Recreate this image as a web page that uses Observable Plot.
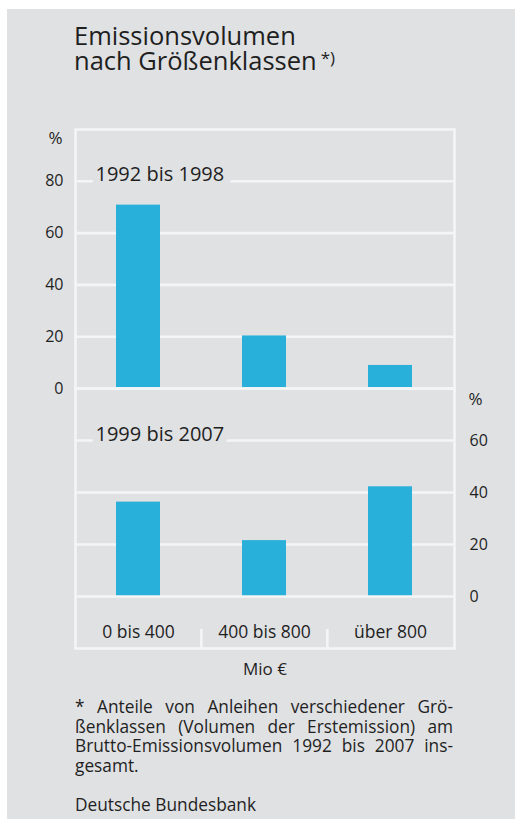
<!DOCTYPE html>
<html>
<head>
<meta charset="utf-8">
<script src="https://cdn.jsdelivr.net/npm/d3@7"></script>
<script src="https://cdn.jsdelivr.net/npm/@observablehq/plot@0.6"></script>
<style>
  body { margin: 0; width: 515px; height: 819px; position: relative; overflow: hidden; background: #fff;
         font-family: "Open Sans", sans-serif; color: #1f1f1f; }
  #sheet { position: absolute; left: 7px; top: 9px; right: 0; bottom: 0; background: #e0e1e3; }
  .title { position: absolute; left: 74px; top: 23px; font-size: 25.5px; white-space: nowrap; }
  .title div { height: 25px; line-height: 25px; }
  .title sup { font-size: 17px; position: relative; top: 1px; vertical-align: top; margin-left: 4px; line-height: 17px; }
  .chart { position: absolute; left: 0; }
  .note { position: absolute; left: 75px; top: 697px; width: 378px; font-size: 17.3px; }
  .note div { height: 19.6px; line-height: 19.6px; }
  .note .j { text-align: justify; text-align-last: justify; }
  .source { position: absolute; left: 75px; top: 795px; font-size: 17.3px; line-height: 20px; }
</style>
</head>
<body>
<div id="sheet"></div>
<div class="title">
  <div>Emissionsvolumen</div>
  <div>nach Größenklassen<sup>*)</sup></div>
</div>
<div id="upper" class="chart" style="top:120px"></div>
<div id="lower" class="chart" style="top:380px"></div>
<div class="note">
  <div class="j">* Anteile von Anleihen verschiedener Grö-</div>
  <div class="j">ßenklassen (Volumen der Erstemission) am</div>
  <div class="j">Brutto-Emissionsvolumen 1992 bis 2007 ins-</div>
  <div>gesamt.</div>
</div>
<div class="source">Deutsche Bundesbank</div>
<script>
// Issue-size classes (million euro) and their share of gross issuance, in %
const categories = ["0 bis 400", "400 bis 800", "über 800"];
const share1992to1998 = [70.8, 20.3, 8.9];
const share1999to2007 = [36.3, 21.5, 42.2];
const periodLabels = ["1992 bis 1998", "1999 bis 2007"];
const leftTicks = [0, 20, 40, 60, 80];
const rightTicks = [0, 20, 40, 60];
const unitLabel = "%";
const xLabel = "Mio €";

const bg = "#e0e1e3";
const lineColor = "#f4f5f5";
const barColor = "#29b0da";
const ink = "#1f1f1f";
const lineWidth = 2.6;
const tickFont = 16;

const rows = values => categories.map((cls, i) => ({cls, share: values[i]}));

const W = 515, mL = 75, mR = 61;
const step = (W - mL - mR) / categories.length;

const xScale = {type: "band", domain: categories, paddingInner: 0.65, paddingOuter: 0.325, axis: null};
const style = {background: "transparent", fontFamily: "Open Sans, sans-serif", fontSize: "16px", color: ink, overflow: "visible"};

const periodLabel = (text, value) => Plot.text([text], {
  y: () => value, frameAnchor: "left", dx: 20, textAnchor: "start", lineAnchor: "bottom",
  fontSize: 20, fill: ink, stroke: bg, strokeWidth: 16, strokeLinejoin: "miter"
});

// upper panel: 1992–1998, axis on the left
const upperChart = Plot.plot({
  width: W, height: 270,
  marginLeft: mL, marginRight: mR, marginTop: 9, marginBottom: 2,
  style,
  x: xScale,
  y: {domain: [0, 100], axis: null},
  marks: [
    Plot.gridY([20, 40, 60, 80], {stroke: lineColor, strokeOpacity: 1, strokeWidth: lineWidth}),
    Plot.barY(rows(share1992to1998), {x: "cls", y: "share", fill: barColor}),
    Plot.frame({stroke: lineColor, strokeWidth: lineWidth}),
    Plot.axisY({anchor: "left", ticks: leftTicks, tickSize: 0, tickPadding: 12, label: null, fontSize: tickFont, fill: ink}),
    Plot.text([unitLabel], {frameAnchor: "top-left", dx: -13, dy: 9, textAnchor: "end", lineAnchor: "middle", fontSize: 17, fill: ink}),
    periodLabel(periodLabels[0], 80)
  ]
});
document.getElementById("upper").append(upperChart);

// lower panel: 1999–2007, axis on the right, size classes along the bottom
const lowerChart = Plot.plot({
  width: W, height: 300,
  marginLeft: mL, marginRight: mR, marginTop: 8, marginBottom: 32,
  style,
  x: xScale,
  y: {domain: [-20, 80], axis: null},
  marks: [
    Plot.gridY([20, 40, 60], {stroke: lineColor, strokeOpacity: 1, strokeWidth: lineWidth}),
    Plot.barY(rows(share1999to2007), {x: "cls", y: "share", fill: barColor}),
    Plot.ruleY([0], {stroke: lineColor, strokeWidth: lineWidth}),
    Plot.frame({stroke: lineColor, strokeWidth: lineWidth}),
    Plot.ruleX(categories.slice(1), {x: d => d, dx: -step / 2, insetTop: 241, stroke: lineColor, strokeWidth: lineWidth}),
    Plot.axisY({anchor: "right", ticks: rightTicks, tickSize: 0, tickPadding: 15, label: null, fontSize: tickFont, fill: ink}),
    Plot.text([unitLabel], {frameAnchor: "top-right", dx: 14, dy: 11, textAnchor: "start", lineAnchor: "middle", fontSize: 17, fill: ink}),
    periodLabel(periodLabels[1], 60),
    Plot.text(categories, {x: d => d, frameAnchor: "bottom", dy: -11, lineAnchor: "bottom", fontSize: 17.5, fill: ink}),
    Plot.text([xLabel], {frameAnchor: "bottom", dy: 26, lineAnchor: "bottom", fontSize: 17, fill: ink})
  ]
});
document.getElementById("lower").append(lowerChart);
</script>
</body>
</html>
